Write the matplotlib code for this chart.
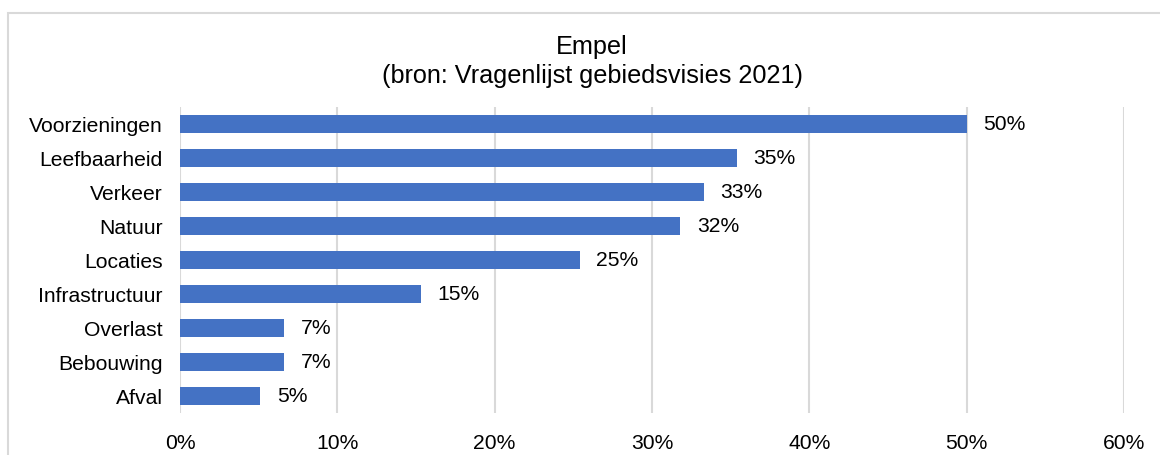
import matplotlib
matplotlib.use("Agg")
import matplotlib.pyplot as plt
from matplotlib.patches import Rectangle

plt.rcParams['font.family'] = ['Liberation Sans', 'DejaVu Sans']

categories = ["Voorzieningen", "Leefbaarheid", "Verkeer", "Natuur", "Locaties",
              "Infrastructuur", "Overlast", "Bebouwing", "Afval"]
values = [50.0, 35.4, 33.3, 31.8, 25.4, 15.3, 6.6, 6.6, 5.1]
xticks = [0, 10, 20, 30, 40, 50, 60]
title_lines = ["Empel", "(bron: Vragenlijst gebiedsvisies 2021)"]

W, H = 1160, 455
fig = plt.figure(figsize=(W / 100, H / 100), dpi=100)
ax = fig.add_axes([180 / W, 1 - 413 / H, (1124 - 180) / W, (413 - 107) / H])

ypos = list(range(len(categories)))
ax.barh(ypos, values, height=0.54, color="#4472C4", zorder=3)
ax.set_ylim(len(categories) - 0.5, -0.5)
ax.set_xlim(0, 60)
ax.set_yticks(ypos)
ax.set_yticklabels(categories, fontsize=15.2)
ax.set_xticks(xticks)
ax.set_xticklabels([f"{t}%" for t in xticks], fontsize=15.2)
ax.tick_params(axis='both', length=0, colors="#000000")
ax.tick_params(axis='y', pad=12.5)
ax.tick_params(axis='x', pad=15)
for s in ax.spines.values():
    s.set_visible(False)
ax.grid(axis='x', color="#d9d9d9", linewidth=1.5, zorder=0)
ax.set_axisbelow(True)

for y, v in zip(ypos, values):
    ax.annotate(f"{v:.0f}%", (v, y), xytext=(12, 0), textcoords="offset points",
                va="center", ha="left", fontsize=15.2, color="#000000")

fig.text(592 / W, 1 - 47 / H, title_lines[0], ha="center", va="center", fontsize=18.2)
fig.text(592 / W, 1 - 76 / H, title_lines[1], ha="center", va="center", fontsize=18.2)

frame = Rectangle((8 / W, -0.1), 1.2, 1 - 13 / H + 0.1, transform=fig.transFigure,
                  fill=False, edgecolor="#d9d9d9", linewidth=1.5, clip_on=False)
fig.patches.append(frame)

fig.savefig("out.png", dpi=100)
